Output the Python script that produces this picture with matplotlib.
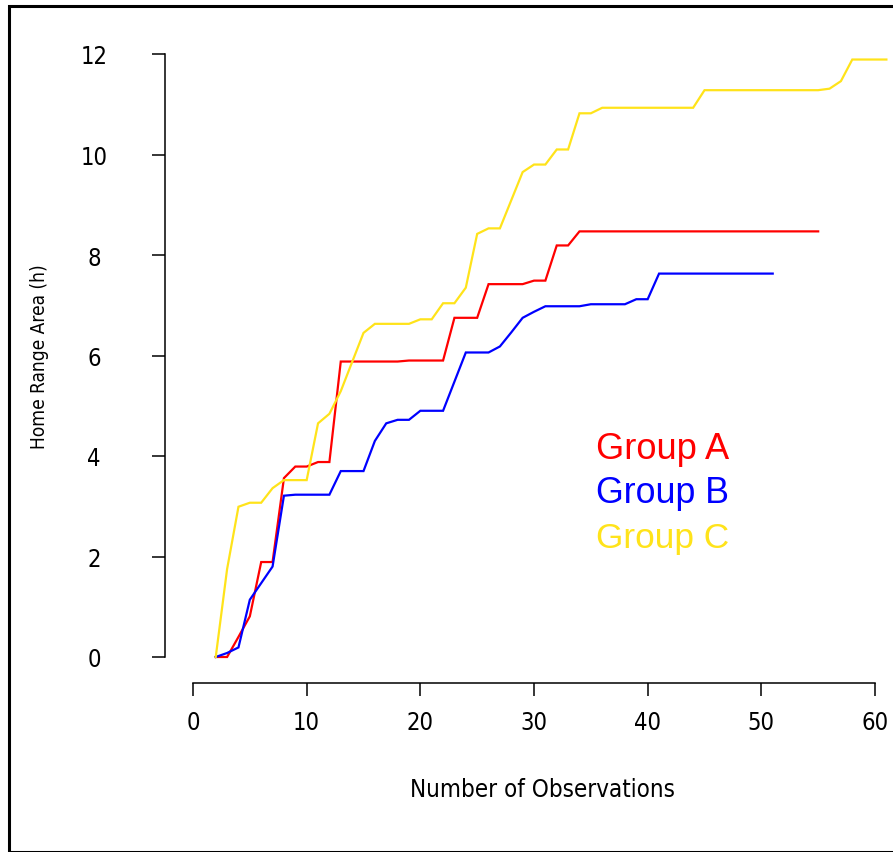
import matplotlib
matplotlib.use("Agg")
import matplotlib.pyplot as plt
from matplotlib.patches import Rectangle

# ---------------- data ----------------
obs_a = list(range(2, 56))
area_a = [0.00, 0.00, 0.40, 0.81, 1.89, 1.89, 3.56, 3.79, 3.79, 3.88,
          3.88, 5.88, 5.88, 5.88, 5.88, 5.88, 5.88, 5.90, 5.90, 5.90,
          5.90, 6.75, 6.75, 6.75, 7.42, 7.42, 7.42, 7.42, 7.49, 7.49,
          8.19, 8.19, 8.47, 8.47, 8.47, 8.47, 8.47, 8.47, 8.47, 8.47,
          8.47, 8.47, 8.47, 8.47, 8.47, 8.47, 8.47, 8.47, 8.47, 8.47,
          8.47, 8.47, 8.47, 8.47]

obs_b = list(range(2, 52))
area_b = [0.00, 0.08, 0.19, 1.14, 1.47, 1.80, 3.21, 3.23, 3.23, 3.23,
          3.23, 3.70, 3.70, 3.70, 4.30, 4.65, 4.72, 4.72, 4.90, 4.90,
          4.90, 5.48, 6.06, 6.06, 6.06, 6.18, 6.46, 6.75, 6.87, 6.98,
          6.98, 6.98, 6.98, 7.02, 7.02, 7.02, 7.02, 7.12, 7.12, 7.63,
          7.63, 7.63, 7.63, 7.63, 7.63, 7.63, 7.63, 7.63, 7.63, 7.63]

obs_c = list(range(2, 62))
area_c = [0.00, 1.75, 2.99, 3.07, 3.07, 3.36, 3.52, 3.52, 3.52, 4.65,
          4.84, 5.29, 5.87, 6.45, 6.63, 6.63, 6.63, 6.63, 6.72, 6.72,
          7.04, 7.04, 7.35, 8.42, 8.53, 8.53, 9.09, 9.65, 9.80, 9.80,
          10.10, 10.10, 10.82, 10.82, 10.93, 10.93, 10.93, 10.93, 10.93, 10.93,
          10.93, 10.93, 10.93, 11.28, 11.28, 11.28, 11.28, 11.28, 11.28, 11.28,
          11.28, 11.28, 11.28, 11.28, 11.31, 11.46, 11.89, 11.89, 11.89, 11.89]

group_names = ["Group A", "Group B", "Group C"]
group_colors = ["#FF0000", "#0000FF", "#FFE31A"]

x_ticks = [0, 10, 20, 30, 40, 50, 60]
y_ticks = [0, 2, 4, 6, 8, 10, 12]
x_label = "Number of Observations"
y_label = "Home Range Area (h)"

# ---------------- layout (pixels) ----------------
W, H = 893, 853
px_x0, px_per_x = 193.0, 11.367     # pixel of x=0, pixels per unit
px_y0, px_per_y = 658.0, 50.25      # pixel of y=0, pixels per unit
ax_left, ax_right, ax_bottom, ax_top = 165, 893, 684, 20

axis_font = dict(family=["DejaVu Sans"], stretch="condensed")

fig = plt.figure(figsize=(W / 100, H / 100), dpi=100)
fig.patch.set_facecolor("white")

ax = fig.add_axes([ax_left / W, 1 - ax_bottom / H,
                   (ax_right - ax_left) / W, (ax_bottom - ax_top) / H])
ax.set_xlim((ax_left - px_x0) / px_per_x, (ax_right - px_x0) / px_per_x)
ax.set_ylim((px_y0 - ax_bottom) / px_per_y, (px_y0 - ax_top) / px_per_y)
ax.patch.set_alpha(0)

series = [(obs_a, area_a), (obs_b, area_b), (obs_c, area_c)]
for (xs, ys), col in zip(series, group_colors):
    ax.plot(xs, ys, color=col, lw=1.6, solid_joinstyle="miter")

for s in ["top", "right"]:
    ax.spines[s].set_visible(False)
ax.spines["left"].set_bounds(0, 12)
ax.spines["bottom"].set_bounds(0, 60)
for s in ["left", "bottom"]:
    ax.spines[s].set_linewidth(1.1)

ax.set_xticks(x_ticks)
ax.set_yticks(y_ticks)
ax.set_xticklabels([str(v) for v in x_ticks])
ax.set_yticklabels([str(v) for v in y_ticks])
tick_fs = 16.5
ax.tick_params(axis="both", direction="out", length=9.4, width=1.1,
               labelsize=tick_fs, colors="black")
ax.tick_params(axis="y", pad=41.8)
ax.tick_params(axis="x", pad=10.0)
for lab in ax.get_yticklabels() + ax.get_xticklabels():
    lab.set_fontfamily(axis_font["family"])
    lab.set_fontstretch(axis_font["stretch"])
for lab in ax.get_yticklabels():
    lab.set_ha("center")

xl = fig.text(542 / W, 1 - 797 / H, x_label, ha="center", va="baseline",
              fontsize=16, **axis_font)
yl = fig.text(40 / W, 1 - 357 / H, y_label, ha="center", va="center",
              rotation=90, fontsize=14, **axis_font)

leg_texts = []
for i, (name, col) in enumerate(zip(group_names, group_colors)):
    t = fig.text(596 / W, 1 - (459 + 44.5 * i) / H, name, color=col,
                 ha="left", va="baseline", fontsize=25.5,
                 family=["Liberation Sans", "DejaVu Sans"])
    leg_texts.append(t)

# fit text sizes to measured widths in the reference
fig.canvas.draw()
r = fig.canvas.get_renderer()
def fit(t, target, use_height=False):
    bb = t.get_window_extent(r)
    cur = bb.height if use_height else bb.width
    if cur > 0:
        t.set_fontsize(t.get_fontsize() * target / cur)
fit(xl, 265)
fit(yl, 186, use_height=True)
for t in leg_texts:
    fit(t, {"Group A": 133, "Group B": 133, "Group C": 133}[t.get_text()])
lab12 = [l for l in ax.get_yticklabels() if l.get_text() == "12"][0]
bb = lab12.get_window_extent(r)
if bb.width > 0:
    new_fs = tick_fs * 27.0 / bb.width
    ax.tick_params(axis="both", labelsize=new_fs)

# outer border
fig.patches.append(Rectangle((8.5 / W, 1 - 853 / H), (905 - 8.5) / W, (853 - 6.5) / H,
                             transform=fig.transFigure, fill=False,
                             edgecolor="black", lw=2.2, clip_on=False))

fig.savefig("out.png", dpi=100, facecolor="white")
